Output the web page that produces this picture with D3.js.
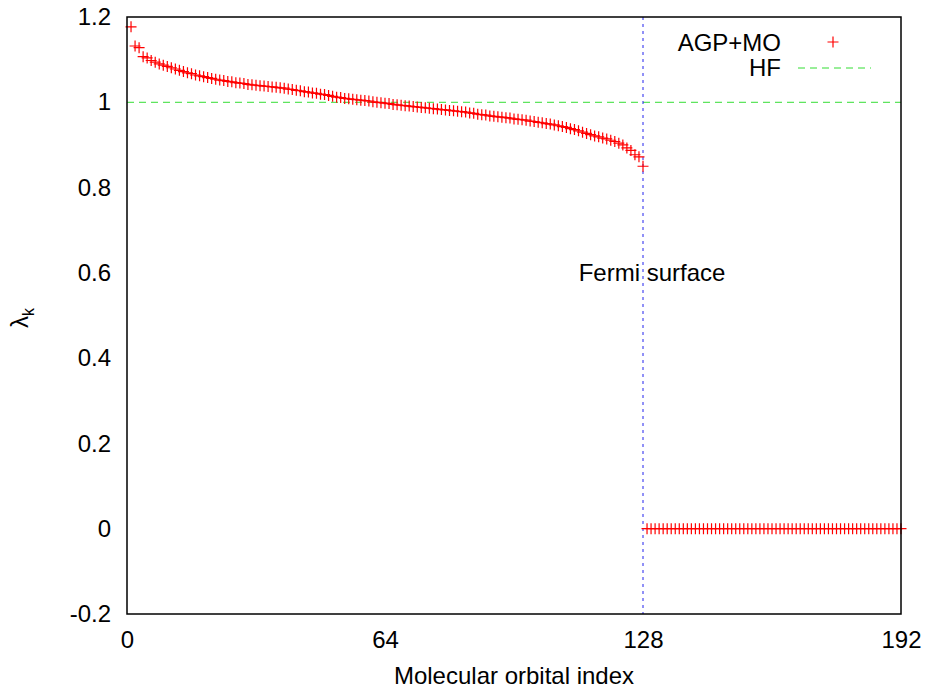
<!DOCTYPE html>
<html>
<head>
<meta charset="utf-8">
<script src="https://cdn.jsdelivr.net/npm/d3@7"></script>
<style>
  body { margin: 0; background: #fff; }
  text { font-family: "Liberation Sans", Arial, sans-serif; }
</style>
</head>
<body>
<div id="chart"></div>
<script>
// occupied orbitals 1..128 (AGP+MO eigenvalues)
const occupiedValues = [
  1.177, 1.132, 1.128, 1.107, 1.104, 1.098, 1.094, 1.090, 1.087, 1.084,
  1.081, 1.078, 1.075, 1.072, 1.069, 1.067, 1.064, 1.062, 1.060, 1.058,
  1.056, 1.054, 1.052, 1.051, 1.049, 1.048, 1.046, 1.045, 1.044, 1.042,
  1.041, 1.040, 1.039, 1.038, 1.037, 1.036, 1.035, 1.034, 1.033, 1.031,
  1.030, 1.028, 1.027, 1.025, 1.024, 1.022, 1.021, 1.019, 1.018, 1.016,
  1.014, 1.012, 1.011, 1.009, 1.008, 1.007, 1.006, 1.005, 1.004, 1.003,
  1.001, 1.000, 0.999, 0.998, 0.997, 0.995, 0.994, 0.993, 0.992, 0.991,
  0.990, 0.989, 0.988, 0.987, 0.986, 0.985, 0.984, 0.983, 0.982, 0.981,
  0.980, 0.979, 0.978, 0.977, 0.975, 0.974, 0.972, 0.971, 0.970, 0.968,
  0.967, 0.966, 0.965, 0.964, 0.963, 0.961, 0.960, 0.959, 0.958, 0.956,
  0.955, 0.953, 0.952, 0.950, 0.949, 0.947, 0.945, 0.943, 0.941, 0.938,
  0.936, 0.933, 0.930, 0.927, 0.924, 0.921, 0.919, 0.916, 0.914, 0.911,
  0.908, 0.904, 0.900, 0.893, 0.887, 0.877, 0.872, 0.850
];
// virtual orbitals 129..192
const virtualValues = [
  0,0,0,0,0,0,0,0,0,0,0,0,0,0,0,0,0,0,0,0,0,0,0,0,0,0,0,0,0,0,0,0,
  0,0,0,0,0,0,0,0,0,0,0,0,0,0,0,0,0,0,0,0,0,0,0,0,0,0,0,0,0,0,0,0
];
const hfLevel = 1;
const fermiIndex = 128;

const xTicks = [0, 64, 128, 192];
const yTicks = [-0.2, 0, 0.2, 0.4, 0.6, 0.8, 1, 1.2];

const agp = occupiedValues.concat(virtualValues).map((v, i) => ({ k: i + 1, v: v }));

const width = 928, height = 690;
const margin = { left: 127, right: 27, top: 17, bottom: 76 };

const svg = d3.select("#chart").append("svg")
  .attr("width", width)
  .attr("height", height);

const x = d3.scaleLinear().domain([0, 192]).range([margin.left, width - margin.right]);
const y = d3.scaleLinear().domain([-0.2, 1.2]).range([height - margin.bottom, margin.top]);

// tick labels (gnuplot style, plain hyphen minus)
const yAxis = svg.append("g")
  .attr("transform", `translate(${margin.left},0)`)
  .call(d3.axisLeft(y).tickValues(yTicks).tickSize(0).tickPadding(16).tickFormat(d => String(d)));
yAxis.select(".domain").remove();
yAxis.selectAll("text").attr("font-size", 24).attr("fill", "#000")
  .attr("font-family", "'Liberation Sans', Arial, sans-serif");

const xAxis = svg.append("g")
  .attr("transform", `translate(0,${height - margin.bottom})`)
  .call(d3.axisBottom(x).tickValues(xTicks).tickSize(0).tickPadding(17));
xAxis.select(".domain").remove();
xAxis.selectAll("text").attr("font-size", 24).attr("fill", "#000")
  .attr("font-family", "'Liberation Sans', Arial, sans-serif");

// HF reference line
svg.append("line")
  .attr("x1", x(0)).attr("x2", x(192))
  .attr("y1", y(hfLevel)).attr("y2", y(hfLevel))
  .attr("stroke", "#33dd33")
  .attr("stroke-width", 1)
  .attr("stroke-dasharray", "7,5");

// Fermi surface
svg.append("line")
  .attr("x1", x(fermiIndex)).attr("x2", x(fermiIndex))
  .attr("y1", y(1.2)).attr("y2", y(-0.2))
  .attr("stroke", "#2222ee")
  .attr("stroke-width", 1)
  .attr("stroke-dasharray", "3,4");

svg.append("text")
  .attr("x", x(fermiIndex) + 9)
  .attr("y", y(0.6))
  .attr("dy", "0.35em")
  .attr("font-size", 24)
  .attr("text-anchor", "middle")
  .text("Fermi surface");

// cross markers
const arm = 5.5;
const crossPath = d => {
  const cx = x(d.k), cy = y(d.v);
  return `M${cx - arm},${cy}H${cx + arm}M${cx},${cy - arm}V${cy + arm}`;
};
svg.append("g")
  .selectAll("path")
  .data(agp)
  .join("path")
  .attr("d", crossPath)
  .attr("stroke", "#ff0000")
  .attr("stroke-width", 1.2)
  .attr("fill", "none");

// frame
svg.append("rect")
  .attr("x", x(0)).attr("y", y(1.2))
  .attr("width", x(192) - x(0))
  .attr("height", y(-0.2) - y(1.2))
  .attr("fill", "none")
  .attr("stroke", "#000")
  .attr("stroke-width", 1.5);

// legend
const legend = svg.append("g");
legend.append("text")
  .attr("x", 781).attr("y", 43).attr("dy", "0.35em")
  .attr("text-anchor", "end").attr("font-size", 24)
  .text("AGP+MO");
legend.append("path")
  .attr("d", `M${833 - arm},42H${833 + arm}M833,${42 - arm}V${42 + arm}`)
  .attr("stroke", "#ff0000").attr("stroke-width", 1.2);
legend.append("text")
  .attr("x", 781).attr("y", 68).attr("dy", "0.35em")
  .attr("text-anchor", "end").attr("font-size", 24)
  .text("HF");
legend.append("line")
  .attr("x1", 798).attr("x2", 871).attr("y1", 68).attr("y2", 68)
  .attr("stroke", "#33dd33").attr("stroke-width", 1)
  .attr("stroke-dasharray", "7,5");

// axis titles
svg.append("text")
  .attr("x", (x(0) + x(192)) / 2)
  .attr("y", 676)
  .attr("dy", "0.35em")
  .attr("text-anchor", "middle")
  .attr("font-size", 24)
  .text("Molecular orbital index");

const ylab = svg.append("text")
  .attr("transform", "translate(28,318) rotate(-90)")
  .attr("text-anchor", "middle")
  .attr("font-size", 24);
ylab.append("tspan").text("λ");
ylab.append("tspan").attr("font-size", 16).attr("dy", 6).text("k");
</script>
</body>
</html>
